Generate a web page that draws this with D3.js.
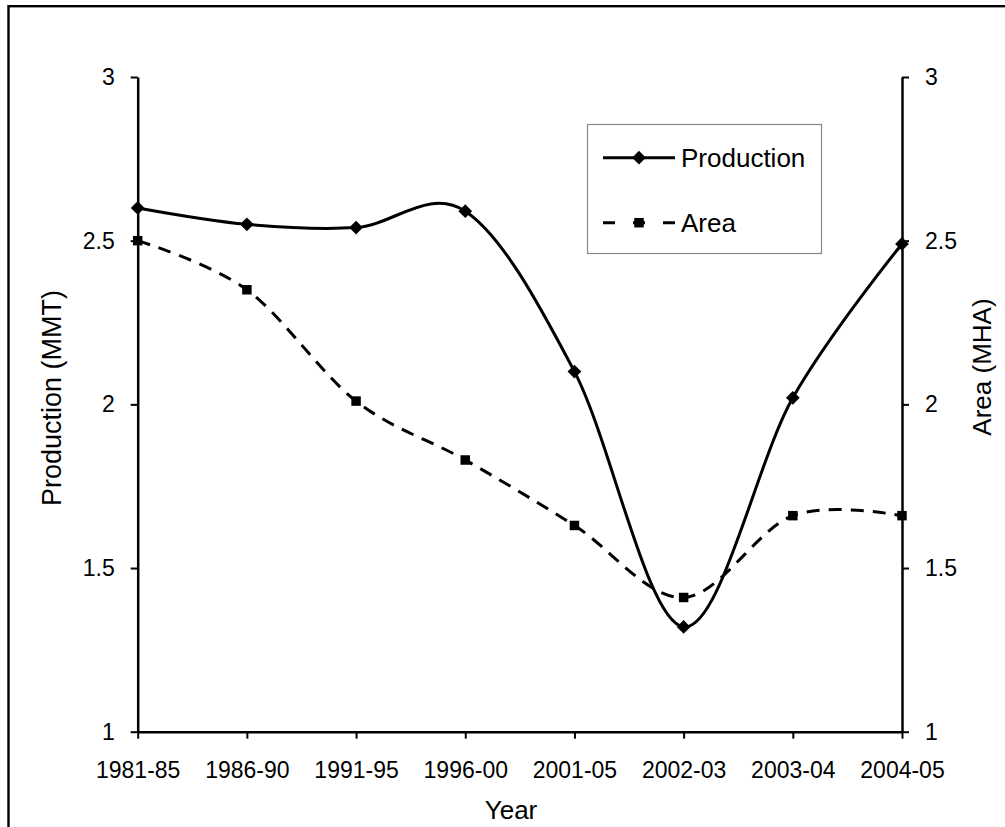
<!DOCTYPE html>
<html>
<head>
<meta charset="utf-8">
<script src="https://cdn.jsdelivr.net/npm/d3@7"></script>
<style>
  html, body { margin: 0; padding: 0; background: #fff; }
  svg { display: block; font-family: "Liberation Sans", Arial, sans-serif; }
</style>
</head>
<body>
<svg id="chart" width="1005" height="827"></svg>
<script>
// Periods on the x axis
const years = ["1981-85", "1986-90", "1991-95", "1996-00", "2001-05", "2002-03", "2003-04", "2004-05"];
// Production, million metric tonnes
const production = [2.60, 2.55, 2.54, 2.59, 2.10, 1.32, 2.02, 2.49];
// Area, million hectares
const area = [2.50, 2.35, 2.01, 1.83, 1.63, 1.41, 1.66, 1.66];
// Tick values for both value axes
const yTicks = [1, 1.5, 2, 2.5, 3];

const svg = d3.select("#chart");
const plotLeft = 137.7, plotRight = 902, plotTop = 77, plotBottom = 731.7;

// Frame around the whole chart
svg.append("rect")
  .attr("x", 8.5).attr("y", 6.2)
  .attr("width", 1100).attr("height", 1000)
  .attr("fill", "none").attr("stroke", "#000").attr("stroke-width", 2.4);

const x = d3.scalePoint().domain(years).range([plotLeft, plotRight]);
const yProd = d3.scaleLinear().domain([1, 3]).range([plotBottom, plotTop]);
const yArea = d3.scaleLinear().domain([1, 3]).range([plotBottom, plotTop]);

const fmt = d3.format("");

function styleAxis(g) {
  g.select(".domain").attr("stroke", "#000").attr("stroke-width", 2.5);
  g.selectAll(".tick line").attr("stroke", "#000").attr("stroke-width", 2);
  g.selectAll(".tick text").attr("fill", "#000").style("font-size", "23px")
    .style("font-family", "Liberation Sans, Arial, sans-serif");
}

// Left axis (production)
svg.append("g").attr("transform", `translate(${plotLeft},0)`)
  .call(d3.axisLeft(yProd).tickValues(yTicks).tickFormat(fmt).tickSize(7).tickSizeOuter(0).tickPadding(16))
  .call(styleAxis);

// Right axis (area)
svg.append("g").attr("transform", `translate(${plotRight},0)`)
  .call(d3.axisRight(yArea).tickValues(yTicks).tickFormat(fmt).tickSize(7).tickSizeOuter(0).tickPadding(16))
  .call(styleAxis);

// Bottom axis (years)
svg.append("g").attr("transform", `translate(0,${plotBottom})`)
  .call(d3.axisBottom(x).tickSize(7).tickSizeOuter(0).tickPadding(23))
  .call(styleAxis);

// Axis titles
svg.append("text").attr("x", 511).attr("y", 819).attr("text-anchor", "middle")
  .style("font-size", "26px").attr("fill", "#000").text("Year");
svg.append("text").attr("transform", "translate(61,398) rotate(-90)").attr("text-anchor", "middle")
  .style("font-size", "27px").attr("fill", "#000").text("Production (MMT)");
svg.append("text").attr("transform", "translate(991,367) rotate(-90)").attr("text-anchor", "middle")
  .style("font-size", "26px").attr("fill", "#000").text("Area (MHA)");

// Smoothed series lines
const curve = d3.curveCardinal.tension(0);
const prodLine = d3.line().x((d, i) => x(years[i])).y(d => yProd(d)).curve(curve);
const areaLine = d3.line().x((d, i) => x(years[i])).y(d => yArea(d)).curve(curve);

svg.append("path").datum(area).attr("d", areaLine)
  .attr("fill", "none").attr("stroke", "#000").attr("stroke-width", 3)
  .attr("stroke-dasharray", "13,9");
svg.append("path").datum(production).attr("d", prodLine)
  .attr("fill", "none").attr("stroke", "#000").attr("stroke-width", 3);

// Markers
const diamond = d3.symbol().type(d3.symbolDiamond2).size(120);
const square = d3.symbol().type(d3.symbolSquare).size(90);

svg.append("g").selectAll("path").data(area).join("path")
  .attr("transform", (d, i) => `translate(${x(years[i])},${yArea(d)})`)
  .attr("d", square).attr("fill", "#000");
svg.append("g").selectAll("path").data(production).join("path")
  .attr("transform", (d, i) => `translate(${x(years[i])},${yProd(d)})`)
  .attr("d", diamond).attr("fill", "#000");

// Legend
const lg = svg.append("g");
lg.append("rect").attr("x", 587.5).attr("y", 124.5).attr("width", 234).attr("height", 129)
  .attr("fill", "#fff").attr("stroke", "#888").attr("stroke-width", 1.2);
lg.append("line").attr("x1", 603).attr("x2", 675).attr("y1", 157.7).attr("y2", 157.7)
  .attr("stroke", "#000").attr("stroke-width", 3);
lg.append("path").attr("transform", "translate(639,157.7)").attr("d", diamond).attr("fill", "#000");
lg.append("line").attr("x1", 603).attr("x2", 675).attr("y1", 222.7).attr("y2", 222.7)
  .attr("stroke", "#000").attr("stroke-width", 3).attr("stroke-dasharray", "12,18,12,18,12");
lg.append("path").attr("transform", "translate(639,222.7)").attr("d", square).attr("fill", "#000");
lg.append("text").attr("x", 681).attr("y", 166.5).style("font-size", "26px").attr("fill", "#000").text("Production");
lg.append("text").attr("x", 681).attr("y", 231.5).style("font-size", "26px").attr("fill", "#000").text("Area");
</script>
</body>
</html>
